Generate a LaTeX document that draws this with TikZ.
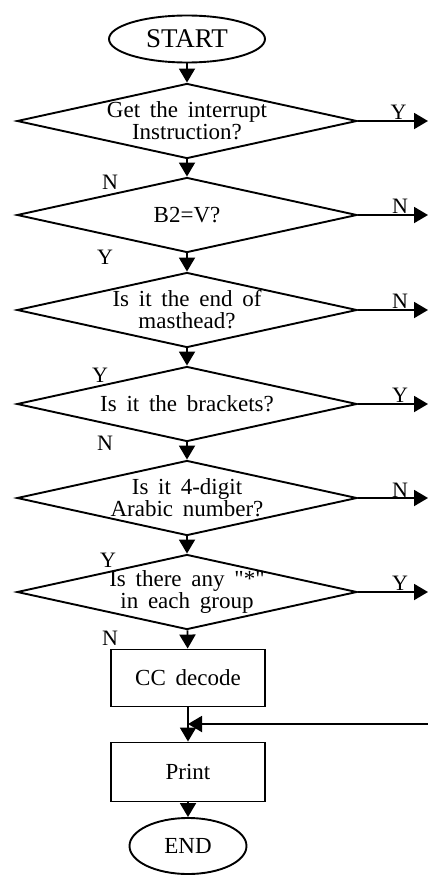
\documentclass[tikz,border=0pt]{standalone}
\usepackage{fontspec}
\setmainfont{Liberation Serif}[WordSpace=1.7]
\usepackage{tikz}
\usetikzlibrary{arrows.meta,shapes.geometric,calc}

\begin{document}
\begin{tikzpicture}[
  x=1pt,y=-1pt,
  font=\fontsize{23}{22}\selectfont,
  line width=1.9pt,
  decision/.style={draw,diamond,aspect=4.53,minimum width=340pt,minimum height=75pt,inner sep=-3pt,align=center},
  procbox/.style={draw,rectangle,minimum width=154pt,minimum height=57pt},
  terminal/.style={draw,ellipse,inner sep=0pt},
  flow/.style={-{Triangle[length=14pt,width=16pt]}},
  yn/.style={font=\fontsize{22}{22}\selectfont,inner sep=1pt}
]
\useasboundingbox (0,0) rectangle (428,875);
\node[terminal,minimum width=156pt,minimum height=47pt,font=\fontsize{27}{27}\selectfont]
  (start) at (187,39) {START};
\node[decision] (d1) at (187,121) {Get the interrupt\\Instruction?};
\node[decision] (d2) at (187,215) {B2=V?};
\node[decision] (d3) at (187,310) {Is it the end of\\masthead?};
\node[decision] (d4) at (187,404) {Is it the brackets?};
\node[decision] (d5) at (187,498) {Is it 4-digit\\Arabic number?};
\node[decision] (d6) at (187,592) {Is there any \textquotedbl*\textquotedbl\\in each group};
\node[procbox] (cc) at (188,678) {CC decode};
\node[procbox,minimum height=59pt] (pr) at (188,772) {Print};
\node[terminal,minimum width=117pt,minimum height=56pt] (end) at (188,846) {END};
% main column
\draw[flow] (start) -- (d1);
\draw[flow] (d1) -- (d2);
\draw[flow] (d2) -- (d3);
\draw[flow] (d3) -- (d4);
\draw[flow] (d4) -- (d5);
\draw[flow] (d5) -- (d6);
\draw[flow] (d6) -- (cc);
\draw[flow] (cc) -- (pr);
\draw[flow] (pr) -- (end);
% exits to the right
\coordinate (o1) at (428,121);
\coordinate (o2) at (428,215);
\coordinate (o3) at (428,310);
\coordinate (o4) at (428,404);
\coordinate (o5) at (428,498);
\coordinate (o6) at (428,592);
\draw[flow] (d1.east) -- node[yn,above,pos=0.58] (y1) {Y} (o1);
\draw[flow] (d2.east) -- node[yn,above,pos=0.6] (n2) {N} (o2);
\draw[flow] (d3.east) -- node[yn,above,pos=0.6] (n3) {N} (o3);
\draw[flow] (d4.east) -- node[yn,above,pos=0.6] (y4) {Y} (o4);
\draw[flow] (d5.east) -- node[yn,above,pos=0.6,inner sep=0pt] (n5) {N} (o5);
\draw[flow] (d6.east) -- node[yn,above,pos=0.6] (y6) {Y} (o6);
% return line
\coordinate (back) at (428,724);
\draw[flow] (back) -- (back -| pr.north);
% labels of the downward exits
\node[yn] (n1) at (110,182) {N};
\node[yn] (y2) at (105,257) {Y};
\node[yn] (y3) at (100,375) {Y};
\node[yn] (n4) at (105,443) {N};
\node[yn] (y5) at (108,560) {Y};
\node[yn] (n6) at (110,638) {N};
\end{tikzpicture}
\end{document}
